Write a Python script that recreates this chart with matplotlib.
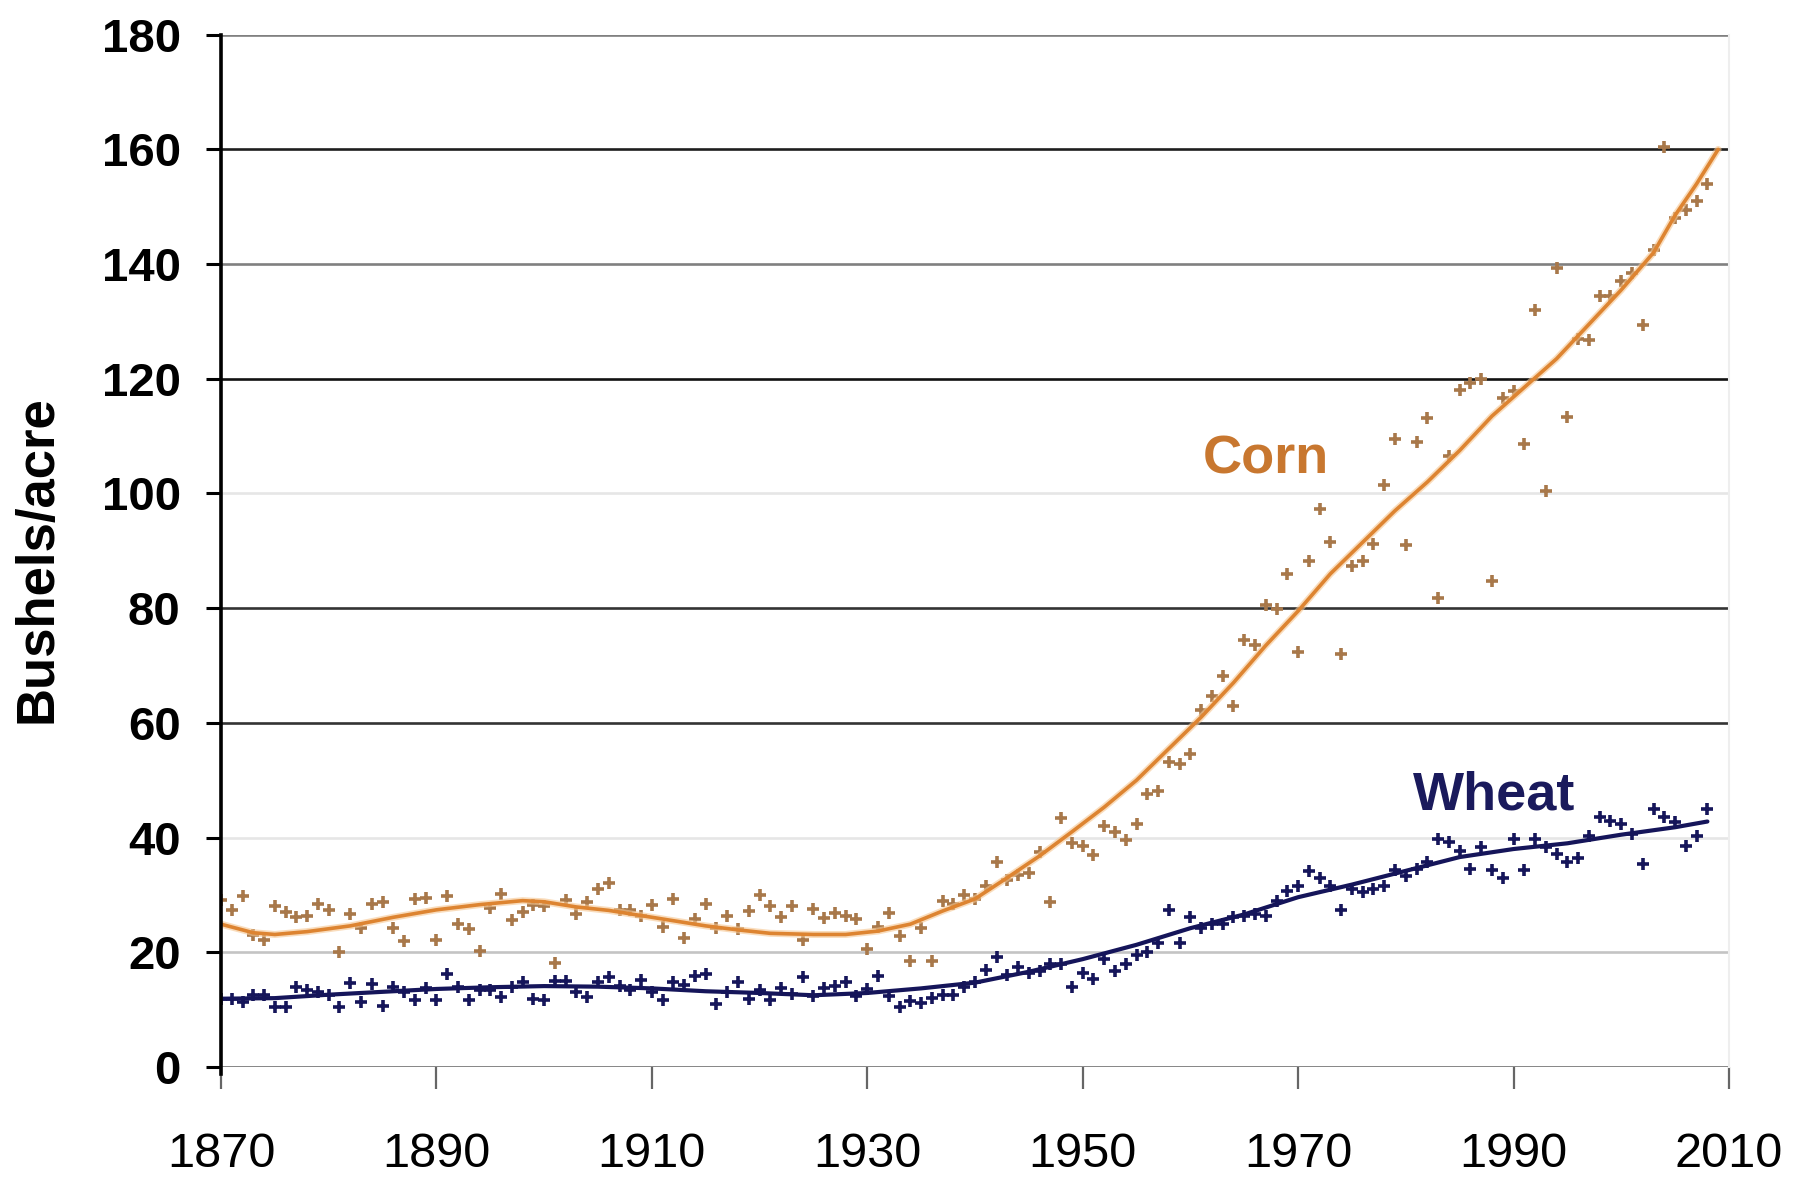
import numpy as np
import matplotlib
matplotlib.use("Agg")
import matplotlib.pyplot as plt

plt.rcParams['font.family'] = ['Liberation Sans', 'DejaVu Sans']

# yearly yields, 1870..2008 (bushels/acre)
corn = [
    29.2, 27.4, 29.8, 23.0, 22.2, 28.0, 27.1, 26.1, 26.4, 28.5,   # 1870s
    27.4, 20.0, 26.7, 24.2, 28.5, 28.8, 24.3, 22.0, 29.3, 29.5,   # 1880s
    22.2, 29.8, 24.9, 24.0, 20.2, 27.8, 30.2, 25.6, 27.0, 28.2,   # 1890s
    28.1, 18.1, 29.1, 26.7, 28.8, 31.1, 32.0, 27.3, 27.4, 26.4,   # 1900s
    28.2, 24.4, 29.3, 22.5, 25.8, 28.5, 24.3, 26.4, 24.0, 27.2,   # 1910s
    29.9, 28.0, 26.2, 28.0, 22.2, 27.6, 25.9, 26.8, 26.4, 25.8,   # 1920s
    20.6, 24.4, 26.8, 22.8, 18.5, 24.3, 18.5, 29.0, 28.4, 29.9,   # 1930s
    29.3, 31.5, 35.7, 32.6, 33.5, 33.8, 37.4, 28.7, 43.4, 39.0,   # 1940s
    38.5, 37.0, 42.1, 41.0, 39.5, 42.3, 47.6, 48.2, 53.2, 52.9,   # 1950s
    54.6, 62.2, 64.7, 68.1, 62.9, 74.5, 73.6, 80.5, 79.8, 85.9,   # 1960s
    72.3, 88.2, 97.3, 91.5, 72.0, 87.4, 88.2, 91.2, 101.4, 109.5, # 1970s
    91.1, 108.9, 113.2, 81.7, 106.5, 118.1, 119.3, 119.9, 84.7, 116.6,   # 1980s
    117.8, 108.6, 132.0, 100.5, 139.3, 113.3, 127.0, 126.7, 134.5, 134.5, # 1990s
    137.0, 138.5, 129.4, 142.4, 160.5, 148.1, 149.5, 151.0, 153.9,       # 2000s
]
wheat = [
    11.9, 11.9, 11.3, 12.5, 12.5, 10.4, 10.4, 14.0, 13.4, 13.1,
    12.5, 10.4, 14.7, 11.3, 14.4, 10.7, 14.0, 13.1, 11.6, 13.7,
    11.6, 16.2, 14.0, 11.6, 13.4, 13.4, 12.2, 14.0, 14.9, 11.9,
    11.6, 15.0, 15.0, 13.1, 12.2, 14.9, 15.6, 14.1, 13.4, 15.1,
    13.1, 11.6, 14.9, 14.3, 15.9, 16.2, 11.0, 13.1, 14.9, 11.9,
    13.4, 11.6, 13.7, 12.8, 15.7, 12.3, 13.7, 14.2, 14.8, 12.4,
    13.6, 15.8, 12.4, 10.5, 11.5, 11.2, 12.1, 12.6, 12.5, 13.9,
    14.9, 16.9, 19.2, 16.0, 17.4, 16.3, 16.7, 18.0, 18.0, 13.9,
    16.3, 15.4, 18.9, 16.8, 18.0, 19.6, 20.0, 21.7, 27.3, 21.7,
    26.1, 24.3, 24.9, 24.9, 26.1, 26.4, 26.7, 26.3, 28.9, 30.6,
    31.5, 34.2, 33.0, 31.5, 27.4, 31.0, 30.5, 31.1, 31.5, 34.3,
    33.3, 34.5, 35.7, 39.7, 39.3, 37.7, 34.5, 38.3, 34.4, 32.9,
    39.7, 34.4, 39.7, 38.3, 37.1, 35.8, 36.5, 40.3, 43.5, 42.9,
    42.3, 40.6, 35.4, 44.9, 43.5, 42.7, 38.6, 40.3, 44.9,
]
years = list(range(1870, 1870 + len(corn)))

# smoothed trend curves, read at a few years
corn_trend_years = [1870, 1873, 1875, 1878, 1882, 1886, 1890, 1894, 1898, 1900,
                    1903, 1906, 1909, 1912, 1915, 1918, 1921, 1925, 1928, 1931,
                    1934, 1937, 1940, 1943, 1946, 1949, 1952, 1955, 1958, 1961,
                    1964, 1967, 1970, 1973, 1976, 1979, 1982, 1985, 1988, 1991,
                    1994, 1997, 2000, 2003, 2005, 2007, 2009]
corn_trend = [24.9, 23.4, 23.1, 23.6, 24.6, 26.1, 27.4, 28.3, 29.0, 28.8,
              27.9, 27.3, 26.4, 25.5, 24.6, 23.9, 23.3, 23.1, 23.1, 23.7,
              24.9, 27.2, 29.3, 33.0, 36.8, 41.0, 45.3, 50.0, 55.5, 61.0,
              67.0, 73.5, 79.5, 86.0, 91.5, 97.0, 102.0, 107.5, 113.5, 118.5,
              123.5, 129.5, 135.5, 142.0, 148.5, 154.0, 160.0]
wheat_trend_years = [1870, 1875, 1880, 1885, 1890, 1895, 1900, 1905, 1910, 1915,
                     1920, 1925, 1930, 1935, 1940, 1945, 1950, 1955, 1960, 1965,
                     1970, 1975, 1980, 1985, 1990, 1995, 2000, 2005, 2008]
wheat_trend = [11.9, 12.0, 12.6, 13.1, 13.6, 13.9, 14.1, 14.0, 13.7, 13.2,
               12.9, 12.5, 12.9, 13.7, 14.7, 16.6, 18.8, 21.3, 24.2, 26.6,
               29.6, 31.8, 34.2, 36.6, 38.0, 39.0, 40.5, 41.8, 42.8]

y_ticks = [0, 20, 40, 60, 80, 100, 120, 140, 160, 180]
x_ticks = [1870, 1890, 1910, 1930, 1950, 1970, 1990, 2010]
grid_colors = ['#707070', '#c4c4c4', '#e6e6e6', '#333333', '#333333',
               '#e6e6e6', '#111111', '#808080', '#1e1e1e', '#808080']

corn_pt = '#a8784a'
corn_line = '#dd8431'
wheat_col = '#15155a'

fig = plt.figure(figsize=(18.07, 11.77), dpi=100)
ax = fig.add_axes([0.1223, 0.0935, 0.8345, 0.877])

for v, c in zip(y_ticks, grid_colors):
    ax.axhline(v, color=c, lw=1.9, zorder=1)

ax.plot(years, corn, ls='none', marker='+', ms=8, mew=2.6, color=corn_pt, zorder=3)
ax.plot(years, wheat, ls='none', marker='+', ms=8, mew=2.6, color=wheat_col, zorder=3)
# soft halo under the corn curve
ax.plot(corn_trend_years, corn_trend, color='#f6c690', lw=5, alpha=0.6, zorder=4,
        solid_capstyle='round')
ax.plot(corn_trend_years, corn_trend, color=corn_line, lw=2.6, zorder=4,
        solid_capstyle='round')
ax.plot(wheat_trend_years, wheat_trend, color=wheat_col, lw=3.0, zorder=4,
        solid_capstyle='round')

ax.text(1967, 106, 'Corn', color='#c8772f', fontsize=39, fontweight='bold',
        ha='center', va='center')
ax.text(1988.2, 47.3, 'Wheat', color='#1a1a5c', fontsize=39, fontweight='bold',
        ha='center', va='center')

ax.set_xlim(1870, 2010)
ax.set_ylim(0, 180)
ax.set_xticks(x_ticks)
ax.set_yticks(y_ticks)
ax.tick_params(axis='y', direction='out', length=11, width=2.2, color='black',
               labelsize=34, pad=18)
ax.tick_params(axis='x', direction='out', length=16, width=1.6, color='#666666',
               labelsize=35, pad=31)
for lab in ax.get_yticklabels():
    lab.set_fontweight('bold')

for s in ['top', 'bottom']:
    ax.spines[s].set_visible(False)
ax.spines['right'].set_color('#eeeeee')
ax.spines['right'].set_linewidth(1.5)
ax.spines['left'].set_color('black')
ax.spines['left'].set_linewidth(2.6)
ax.spines['left'].set_bounds(-1.2, 180)
ax.spines['left'].set_zorder(5)

fig.text(0.0205, 0.525, 'Bushels/acre', rotation=90, fontsize=38,
         fontweight='bold', ha='center', va='center')

fig.savefig('out.png', dpi=100)
